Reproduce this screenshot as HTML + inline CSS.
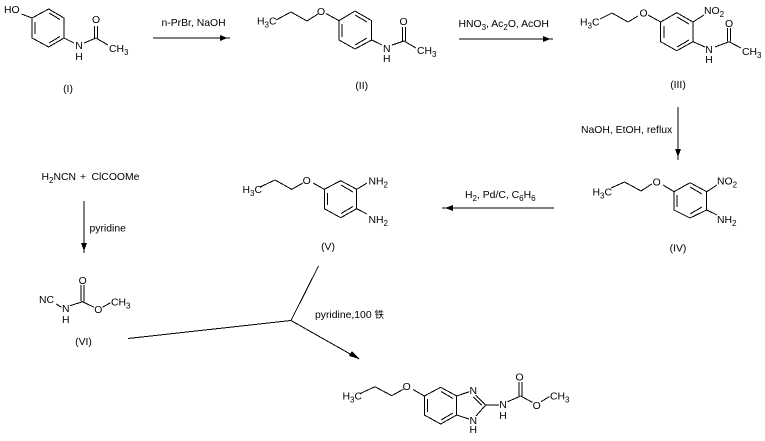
<!DOCTYPE html>
<html><head><meta charset="utf-8">
<style>
html,body{margin:0;padding:0;background:#fff}
svg{display:block}
text{font-family:"Liberation Sans","Noto Sans CJK SC",sans-serif;font-size:10.4px;fill:#000}
.m{text-anchor:middle}
line,polyline,polygon{shape-rendering:crispEdges}
line,polyline{stroke:#000;stroke-width:1;fill:none}
polygon{fill:#000;stroke:none}
</style></head><body>
<svg width="765" height="441" viewBox="0 0 765 441" xmlns="http://www.w3.org/2000/svg">
<!-- I -->
<polygon style="fill:none;stroke:#000" points="48.7,9 64,18 64,38 48.7,47 32,38 32,18"/>
<line x1="35" y1="22" x2="35" y2="34"/><line x1="49" y1="13" x2="60" y2="19.5"/><line x1="49" y1="43" x2="60" y2="36.5"/>
<line x1="21.5" y1="14" x2="32" y2="18"/><line x1="64" y1="38" x2="74" y2="43"/><line x1="84" y1="43" x2="96" y2="38"/>
<line x1="94.5" y1="26" x2="94.5" y2="38"/><line x1="97.5" y1="26" x2="97.5" y2="38"/><line x1="96" y1="38" x2="108" y2="45"/>
<text x="4" y="13">HO</text><text x="79" y="49" class="m">N</text><text x="79" y="60" class="m">H</text><text x="96" y="23" class="m">O</text>
<text x="109" y="52">CH<tspan dy="3" font-size="8">3</tspan></text>
<text x="68" y="92" class="m">(I)</text>
<!-- arrow 1 -->
<line x1="153" y1="38" x2="230" y2="38"/><polygon points="220,35 227.5,38 220,41"/>
<text x="161.5" y="26">n-PrBr, NaOH</text>
<!-- II -->
<polygon style="fill:none;stroke:#000" points="355,11 371.7,20.7 371.7,40 355,49 339,40 339,20.7"/>
<line x1="342" y1="24" x2="342" y2="37"/><line x1="355" y1="15" x2="367" y2="22"/><line x1="355" y1="45" x2="367" y2="38"/>
<polyline points="326,13.5 339,20.7"/><polyline points="318,14 307,21 291,12 276,20"/>
<line x1="371.7" y1="40" x2="382" y2="45"/><line x1="392" y1="45" x2="404" y2="41"/>
<line x1="402.5" y1="27" x2="402.5" y2="41"/><line x1="405.5" y1="27" x2="405.5" y2="41"/><line x1="404" y1="41" x2="416" y2="48"/>
<text x="257" y="24.5">H<tspan dy="3" font-size="8">3</tspan><tspan dy="-3">C</tspan></text>
<text x="321" y="15" class="m">O</text><text x="386.7" y="52" class="m">N</text><text x="386.7" y="62" class="m">H</text><text x="403.5" y="25" class="m">O</text>
<text x="417" y="54">CH<tspan dy="3" font-size="8">3</tspan></text>
<text x="361.7" y="89" class="m">(II)</text>
<!-- arrow 2 -->
<line x1="459" y1="39" x2="553" y2="39"/><polygon points="543,36 550.5,39 543,42"/>
<text x="458.5" y="27">HNO<tspan dy="3" font-size="8">3</tspan><tspan dy="-3">, Ac</tspan><tspan dy="3" font-size="8">2</tspan><tspan dy="-3">O, AcOH</tspan></text>
<!-- III -->
<polygon style="fill:none;stroke:#000" points="676.7,12.7 693,22 693,41.7 676.7,50.7 660.7,41.7 660.7,22"/>
<line x1="664" y1="26" x2="664" y2="38"/><line x1="677" y1="17" x2="689" y2="24"/><line x1="677" y1="47" x2="689" y2="40"/>
<line x1="648" y1="15" x2="660.7" y2="22"/><polyline points="638,16 628,22 612,13 600,19"/>
<line x1="693" y1="22" x2="704" y2="15"/><line x1="693" y1="41.7" x2="705" y2="47"/><line x1="715" y1="47" x2="729" y2="41.7"/>
<line x1="727.5" y1="28" x2="727.5" y2="41.7"/><line x1="730.5" y1="28" x2="730.5" y2="41.7"/><line x1="729" y1="41.7" x2="741" y2="48"/>
<text x="580" y="25.5">H<tspan dy="3" font-size="8">3</tspan><tspan dy="-3">C</tspan></text>
<text x="643.5" y="16.5" class="m">O</text>
<text x="704" y="14">NO<tspan dy="3" font-size="8">2</tspan></text>
<text x="709" y="53" class="m">N</text><text x="709" y="63" class="m">H</text><text x="729" y="27" class="m">O</text>
<text x="742" y="55">CH<tspan dy="3" font-size="8">3</tspan></text>
<text x="678" y="88" class="m">(III)</text>
<!-- arrow 3 -->
<line x1="678" y1="107" x2="678" y2="160"/><polygon points="675,149 681,149 678,157"/>
<text x="581" y="133">NaOH, EtOH, reflux</text>
<!-- IV -->
<polygon style="fill:none;stroke:#000" points="690,182.7 706.7,191.7 706.7,210 690,218 674,210 674,191.7"/>
<line x1="677" y1="195" x2="677" y2="207"/><line x1="690" y1="187" x2="702" y2="194"/><line x1="690" y1="214" x2="702" y2="207"/>
<line x1="663" y1="185" x2="674" y2="191.7"/><polyline points="651.7,184 641,191 624.5,182 611,188"/>
<line x1="706.7" y1="191.7" x2="717" y2="185"/><line x1="706.7" y1="210" x2="717" y2="215"/>
<text x="592.5" y="195.5">H<tspan dy="3" font-size="8">3</tspan><tspan dy="-3">C</tspan></text>
<text x="656.7" y="185.5" class="m">O</text>
<text x="717" y="184.5">NO<tspan dy="3" font-size="8">2</tspan></text>
<text x="717" y="223">NH<tspan dy="3" font-size="8">2</tspan></text>
<text x="678" y="251.5" class="m">(IV)</text>
<!-- arrow 4 -->
<line x1="442" y1="208" x2="554" y2="208"/><polygon points="453,205 445,208 453,211"/>
<text x="465" y="198">H<tspan dy="3" font-size="8">2</tspan><tspan dy="-3">, Pd/C, C</tspan><tspan dy="3" font-size="8">6</tspan><tspan dy="-3">H</tspan><tspan dy="3" font-size="8">6</tspan></text>
<!-- V -->
<polygon style="fill:none;stroke:#000" points="340.7,180.7 356.7,189.3 356.7,208.7 340.7,217.7 324.3,208.7 324.3,189.3"/>
<line x1="327.5" y1="193" x2="327.5" y2="205"/><line x1="341" y1="185" x2="353" y2="192"/><line x1="341" y1="213.5" x2="353" y2="206.5"/>
<line x1="313" y1="183" x2="324.3" y2="189.3"/><polyline points="303,183 291.7,189.3 275,180 260.7,186.7"/>
<line x1="356.7" y1="189.3" x2="367" y2="183"/><line x1="356.7" y1="208.7" x2="367" y2="214"/>
<text x="242.5" y="193">H<tspan dy="3" font-size="8">3</tspan><tspan dy="-3">C</tspan></text>
<text x="306.7" y="184" class="m">O</text>
<text x="368.5" y="184.5">NH<tspan dy="3" font-size="8">2</tspan></text>
<text x="368.5" y="223">NH<tspan dy="3" font-size="8">2</tspan></text>
<text x="328" y="250" class="m">(V)</text>
<!-- H2NCN -->
<text x="41.5" y="180">H<tspan dy="3" font-size="8">2</tspan><tspan dy="-3">NCN</tspan></text>
<text x="80" y="180">+</text><text x="91.5" y="180">ClCOOMe</text>
<line x1="84" y1="201" x2="84" y2="253"/><polygon points="81,243 87,243 84,251"/>
<text x="89.5" y="231.5">pyridine</text>
<!-- VI -->
<line x1="81.2" y1="285" x2="81.2" y2="301.7"/><line x1="84.2" y1="285" x2="84.2" y2="301.7"/>
<polyline points="56,304 61.7,307.3"/><polyline points="70,305.7 82.7,301.7 94,307.3"/><polyline points="102.3,307.3 110.7,302.7"/>
<text x="39" y="303">NC</text><text x="65.7" y="312" class="m">N</text><text x="65.7" y="323" class="m">H</text>
<text x="82.7" y="284" class="m">O</text><text x="98.3" y="313" class="m">O</text>
<text x="111" y="305.5">CH<tspan dy="3" font-size="8">3</tspan></text>
<text x="83.5" y="345" class="m">(VI)</text>
<!-- Y junction -->
<line x1="128" y1="338.5" x2="291" y2="320.5"/><line x1="318.5" y1="266" x2="291" y2="320.5"/><line x1="291" y1="320.5" x2="359" y2="359"/>
<polygon points="359.5,359 349,356 352,351"/>
<text x="315" y="318">pyridine,100 <tspan font-size="9.5">铁</tspan></text>
<!-- product -->
<polygon style="fill:none;stroke:#000" points="440.7,387.3 456.7,396 456.7,415 440.7,424 424.3,415 424.3,396"/>
<line x1="427.5" y1="399" x2="427.5" y2="412"/><line x1="441" y1="391.5" x2="453" y2="398.5"/><line x1="441" y1="420" x2="453" y2="413"/>
<line x1="413" y1="389.5" x2="424.3" y2="396"/><polyline points="403.3,389.3 391.7,395.7 375,386.7 360.7,393.3"/>
<line x1="456.7" y1="396" x2="469.3" y2="391.7"/><line x1="456.7" y1="415" x2="469" y2="419"/>
<line x1="475.7" y1="395" x2="485.7" y2="405"/><line x1="473.5" y1="397" x2="482" y2="405.5"/>
<line x1="476" y1="416" x2="485.7" y2="405"/><line x1="485.7" y1="405" x2="499" y2="405"/>
<line x1="507.7" y1="401.7" x2="520.7" y2="396"/><line x1="519.2" y1="382" x2="519.2" y2="396"/><line x1="522.2" y1="382" x2="522.2" y2="396"/>
<line x1="520.7" y1="396" x2="532.3" y2="402.3"/><line x1="541" y1="401.7" x2="549.3" y2="396.7"/>
<text x="342.5" y="399.5">H<tspan dy="3" font-size="8">3</tspan><tspan dy="-3">C</tspan></text>
<text x="406.7" y="390" class="m">O</text>
<text x="473.3" y="394" class="m">N</text><text x="473.3" y="424" class="m">N</text><text x="473.3" y="433" class="m">H</text>
<text x="503" y="408" class="m">N</text><text x="503" y="419" class="m">H</text>
<text x="519.5" y="380.5" class="m">O</text><text x="536.7" y="409" class="m">O</text>
<text x="550" y="399.5">CH<tspan dy="3" font-size="8">3</tspan></text>
</svg>
</body></html>
